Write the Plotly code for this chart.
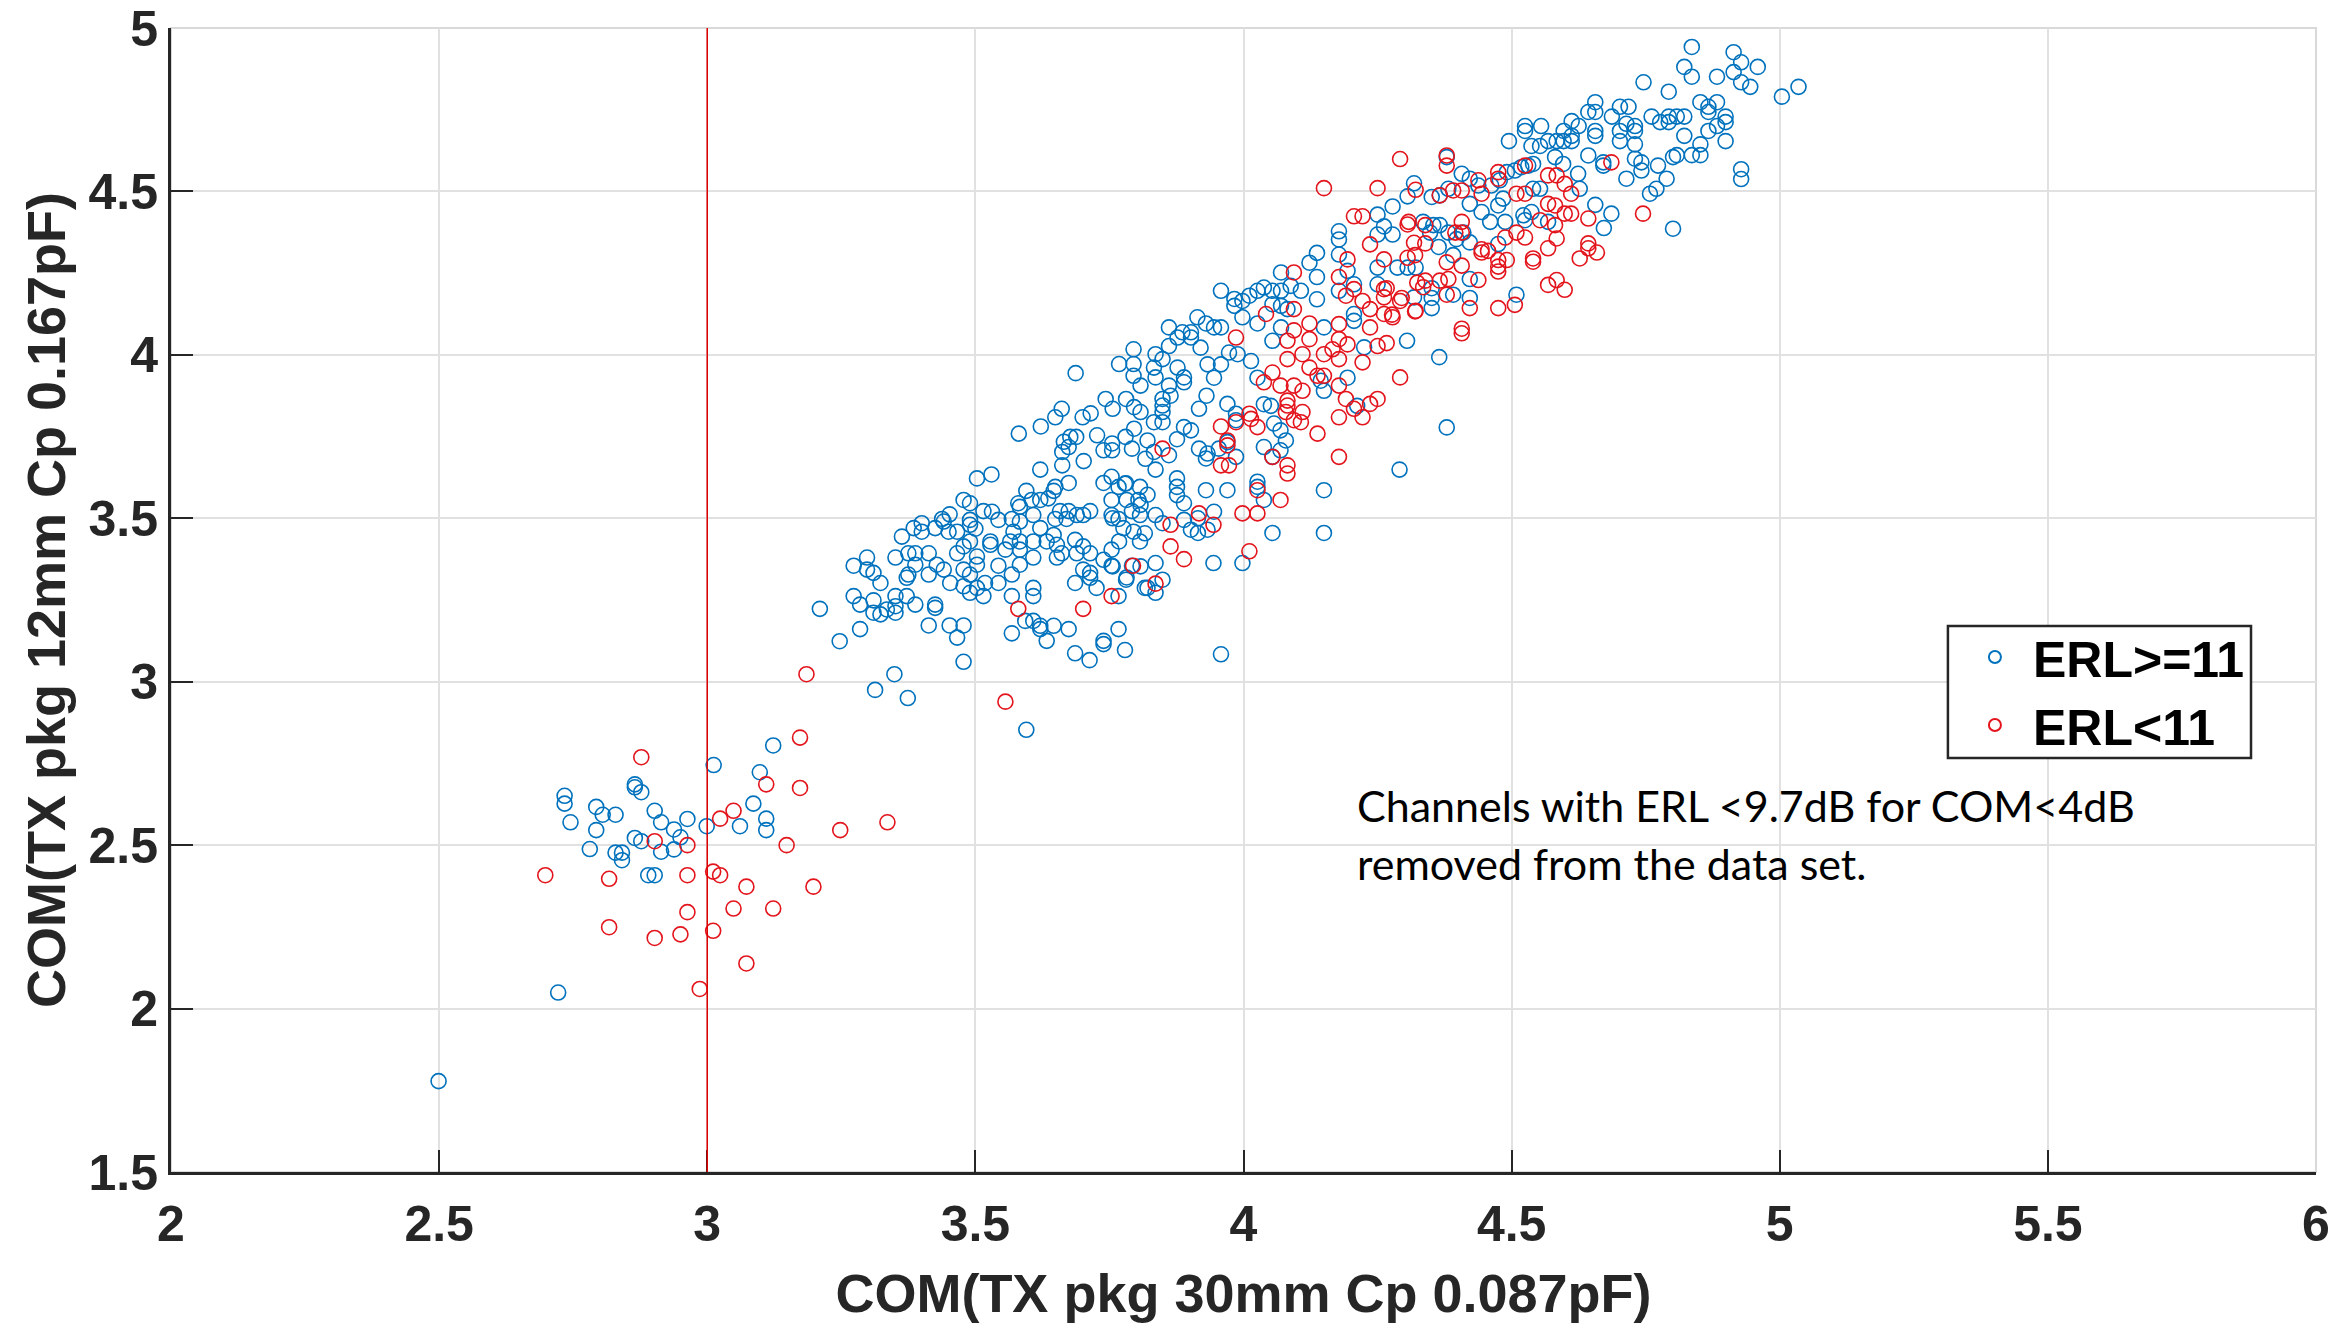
import plotly.graph_objects as go

# ---------------- data ----------------
erl_hi_points = [
    # low cluster
    (3.349,3.023),(3.313,2.975),(3.123,2.805),(3.012,2.745),(3.098,2.723),(3.086,2.627),(3.110,2.581),
    (3.110,2.546),(3.061,2.558),(2.999,2.558),(2.963,2.580),(2.938,2.548),(2.950,2.524),(2.938,2.487),
    (2.914,2.480),(2.914,2.570),(2.902,2.605),(2.877,2.662),(2.865,2.686),(2.865,2.677),(2.877,2.512),
    (2.865,2.522),(2.841,2.477),(2.829,2.477),(2.841,2.454),(2.781,2.488),(2.793,2.546),(2.829,2.593),
    (2.805,2.593),(2.793,2.617),(2.745,2.570),(2.734,2.651),(2.734,2.627),(2.890,2.408),(2.902,2.408),
    (2.722,2.049),(2.499,1.778),
    # x 3.15-3.83, y 2.75-3.76
    (3.665,3.734),(3.677,3.749),(3.688,3.749),(3.727,3.754),(3.755,3.729),(3.780,3.749),(3.792,3.713),
    (3.739,3.708),(3.755,3.708),(3.817,3.682),(3.662,3.703),(3.674,3.718),(3.662,3.662),(3.702,3.675),
    (3.621,3.649),(3.581,3.759),
    (3.503,3.622),(3.530,3.634),(3.595,3.584),(3.649,3.596),(3.674,3.608),(3.739,3.608),(3.754,3.627),
    (3.779,3.606),(3.807,3.596),(3.767,3.596),(3.478,3.556),(3.490,3.546),(3.580,3.546),(3.583,3.535),
    (3.605,3.556),(3.621,3.556),(3.636,3.561),(3.646,3.584),(3.754,3.556),(3.782,3.556),(3.804,3.556),
    (3.515,3.522),(3.531,3.520),(3.543,3.495),(3.568,3.498),(3.583,3.490),(3.608,3.510),(3.658,3.522),
    (3.674,3.522),(3.689,3.510),(3.714,3.522),(3.701,3.510),(3.754,3.510),(3.767,3.498),(3.792,3.522),
    (3.807,3.510),(3.649,3.498),(3.670,3.498),
    (3.452,3.512),(3.438,3.498),(3.490,3.495),(3.490,3.480),(3.500,3.468),(3.400,3.485),(3.385,3.470),
    (3.400,3.459),(3.425,3.470),(3.450,3.459),(3.466,3.459),(3.441,3.490),
    (3.363,3.444),(3.571,3.459),(3.621,3.470),(3.646,3.449),(3.686,3.434),(3.776,3.470),(3.795,3.459),
    (3.816,3.454),
    (3.490,3.429),(3.528,3.429),(3.528,3.419),(3.565,3.429),(3.583,3.429),(3.608,3.429),(3.633,3.429),
    (3.652,3.419),(3.478,3.414),(3.466,3.393),(3.503,3.383),(3.556,3.404),(3.583,3.404),(3.701,3.414),
    (3.714,3.393),(3.689,3.393),(3.661,3.393),(3.652,3.380),(3.754,3.404),(3.739,3.373),(3.807,3.429),
    (3.298,3.380),(3.273,3.355),(3.298,3.343),(3.310,3.333),(3.323,3.302),(3.351,3.380),(3.375,3.393),
    (3.388,3.393),(3.413,3.393),(3.388,3.358),(3.375,3.328),(3.372,3.318),(3.413,3.328),(3.428,3.358),
    (3.441,3.343),(3.453,3.302),(3.478,3.343),(3.490,3.328),(3.503,3.358),(3.478,3.292),(3.503,3.287),
    (3.518,3.302),(3.543,3.355),(3.543,3.302),(3.568,3.328),(3.583,3.358),(3.608,3.380),
    (3.701,3.343),(3.714,3.333),(3.714,3.318),(3.686,3.302),(3.726,3.287),(3.754,3.355),(3.782,3.319),
    (3.792,3.355),(3.816,3.287),
    (3.273,3.262),(3.285,3.236),(3.310,3.249),(3.310,3.211),(3.323,3.206),(3.335,3.221),(3.351,3.262),
    (3.351,3.231),(3.351,3.211),(3.372,3.262),(3.388,3.236),(3.425,3.236),(3.425,3.226),(3.490,3.272),
    (3.515,3.262),(3.568,3.262),(3.608,3.287),(3.608,3.262),(3.767,3.262),(3.210,3.223),
    (3.593,3.186),(3.608,3.186),(3.621,3.171),(3.621,3.161),(3.646,3.171),(3.674,3.161),(3.568,3.148),
    (3.633,3.125),(3.739,3.125),(3.739,3.115),(3.767,3.161),(3.779,3.097),(3.686,3.087),(3.713,3.066),
    (3.285,3.161),(3.247,3.124),(3.413,3.172),(3.452,3.172),(3.478,3.172),(3.466,3.135),(3.478,3.061),
    (3.374,2.950),(3.595,2.853),
    (3.821,3.572),(3.808,3.541),(3.756,3.500),(3.768,3.429),(3.756,3.353),(3.808,3.353),(3.781,3.312),
    (3.821,3.287),(3.821,3.738),(3.796,3.774),(3.781,3.607),
    # x 3.6-3.72, y 3.78-3.95
    (3.687,3.944),(3.661,3.835),(3.649,3.809),(3.700,3.809),(3.715,3.821),(3.622,3.781),
    # x 3.73-4.33, y 3.06-4.06
    (3.795,4.017),(3.768,3.972),(3.795,3.972),(3.795,3.936),(3.808,3.906),(3.836,4.002),(3.849,3.987),
    (3.861,4.027),(3.833,3.961),(3.836,3.931),(3.877,3.961),(3.889,3.931),(3.889,3.916),(3.861,3.906),
    (3.864,3.875),(3.849,3.865),(3.849,3.845),(3.849,3.825),(3.833,3.794),(3.849,3.794),(3.808,3.825),
    (3.796,3.840),(3.781,3.865),(3.756,3.835),(3.743,3.865),(3.889,3.779),(3.902,3.769),(3.917,3.835),
    (3.931,3.875),(3.945,3.930),(3.933,3.971),(3.958,3.971),(3.973,4.007),(3.989,4.002),(4.014,3.981),
    (3.970,3.850),(3.986,3.820),(3.986,3.800),(4.026,3.930),(4.038,3.849),(4.051,3.844),(4.057,3.790),
    (4.069,3.769),(4.054,4.043),(4.144,3.921),(4.150,3.890),(4.194,3.930),(4.212,3.844),(4.225,4.023),
    (4.305,4.043),(3.920,4.022),(3.902,4.053),(3.877,4.053),
    (3.876,3.742),(3.917,3.713),(3.930,3.683),(3.933,3.698),(3.861,3.693),(3.833,3.703),(3.836,3.649),
    (3.954,3.713),(3.970,3.733),(3.986,3.688),(4.038,3.718),(4.054,3.688),(4.069,3.708),(4.079,3.738),
    (3.876,3.622),(3.876,3.596),(3.876,3.571),(3.889,3.546),(3.930,3.586),(3.970,3.586),(4.026,3.612),
    (4.026,3.596),(4.038,3.556),(4.150,3.586),(4.291,3.649),(3.836,3.510),(3.849,3.485),(3.889,3.495),
    (3.902,3.465),(3.915,3.455),(3.933,3.465),(3.945,3.520),(3.915,3.500),(4.054,3.455),(4.150,3.455),
    (3.944,3.363),(3.998,3.363),(3.836,3.363),(3.849,3.312),(3.836,3.272),(3.958,3.084),
    # x 3.85-4.33, y 4.06-4.7
    (4.318,4.525),(4.306,4.485),(4.278,4.454),(4.250,4.429),(4.262,4.393),(4.250,4.368),(4.278,4.368),
    (4.178,4.378),(4.178,4.353),(4.178,4.307),(4.137,4.312),(4.123,4.282),(4.137,4.238),(4.137,4.170),
    (4.194,4.257),(4.070,4.252),(4.088,4.211),(4.107,4.196),(4.070,4.196),(4.054,4.196),(4.038,4.206),
    (4.026,4.196),(4.011,4.181),(3.998,4.165),(3.983,4.171),(3.958,4.196),(3.998,4.115),(4.026,4.096),
    (4.054,4.155),(4.070,4.150),(4.082,4.140),(3.983,4.150),(4.178,4.196),(4.206,4.216),(4.206,4.125),
    (4.250,4.267),(4.250,4.216),(4.287,4.267),(4.306,4.267),(4.321,4.267),(4.318,4.176),(3.914,4.115),
    (3.861,4.084),(3.886,4.069),(3.902,4.069),(3.930,4.096),(3.945,4.084),(3.958,4.084),(4.070,4.084),
    (4.150,4.084),(4.206,4.104),
    # x 4.33-4.81, y 3.6-4.61
    (4.379,4.605),(4.407,4.554),(4.422,4.539),(4.438,4.518),(4.462,4.518),(4.478,4.534),(4.491,4.559),
    (4.506,4.564),(4.518,4.574),(4.531,4.579),(4.540,4.584),(4.581,4.605),(4.596,4.584),(4.624,4.554),
    (4.627,4.508),(4.553,4.508),(4.540,4.508),(4.643,4.610),(4.671,4.589),(4.671,4.579),(4.714,4.539),
    (4.730,4.600),(4.742,4.589),(4.742,4.564),(4.773,4.579),(4.789,4.539),(4.758,4.493),(4.770,4.508),
    (4.801,4.605),(4.801,4.386),(4.686,4.432),(4.672,4.388),(4.656,4.459),(4.351,4.483),(4.366,4.488),
    (4.382,4.508),(4.422,4.462),(4.444,4.437),(4.460,4.407),(4.488,4.407),(4.475,4.457),(4.484,4.478),
    (4.522,4.427),(4.525,4.412),(4.537,4.437),(4.568,4.407),(4.354,4.397),(4.366,4.397),(4.382,4.374),
    (4.410,4.374),(4.397,4.354),(4.422,4.344),(4.364,4.330),(4.391,4.305),(4.475,4.339),(4.351,4.204),
    (4.351,4.174),(4.351,4.143),(4.391,4.184),(4.422,4.174),(4.422,4.232),(4.509,4.184),(4.365,3.993),
    (4.379,3.778),(4.335,4.407),(4.348,4.374),
    # top right, y > 4.6
    (4.836,4.942),(4.914,4.926),(4.928,4.895),(4.959,4.881),(4.822,4.881),(4.836,4.851),(4.883,4.851),
    (4.914,4.865),(4.928,4.834),(4.945,4.820),(4.746,4.834),(4.793,4.805),(5.004,4.790),(5.035,4.820),
    (4.852,4.773),(4.867,4.759),(4.883,4.773),(4.867,4.743),(4.899,4.729),(4.899,4.712),(4.883,4.700),
    (4.867,4.685),(4.899,4.654),(4.852,4.644),(4.822,4.670),(4.822,4.729),(4.808,4.729),(4.793,4.729),
    (4.777,4.712),(4.761,4.729),(4.793,4.712),(4.656,4.773),(4.656,4.743),(4.643,4.743),(4.687,4.729),
    (4.702,4.759),(4.718,4.759),(4.714,4.707),(4.730,4.700),(4.730,4.685),(4.702,4.685),(4.702,4.654),
    (4.730,4.644),(4.656,4.685),(4.656,4.670),(4.612,4.715),(4.625,4.700),(4.612,4.670),(4.597,4.685),
    (4.525,4.700),(4.525,4.685),(4.555,4.700),(4.495,4.654),(4.537,4.639),(4.553,4.639),(4.568,4.654),
    (4.584,4.654),(4.597,4.654),(4.612,4.654),(4.928,4.568),(4.928,4.538),(4.808,4.611),(4.836,4.611),
    (4.852,4.611),
]

erl_lo_points = [
    # low cluster
    (3.185,3.023),(3.173,2.829),(2.877,2.769),(3.110,2.686),(3.173,2.675),(3.049,2.605),(3.024,2.581),
    (3.248,2.546),(3.336,2.570),(3.148,2.500),(2.902,2.512),(2.963,2.500),(2.698,2.408),(2.817,2.397),
    (2.963,2.408),(3.011,2.419),(3.024,2.408),(3.073,2.373),(3.198,2.373),(2.963,2.295),(3.049,2.306),
    (3.123,2.306),(2.817,2.249),(2.902,2.216),(2.950,2.227),(3.011,2.238),(3.073,2.138),(2.986,2.060),
    # middle
    (3.580,3.223),(3.701,3.223),(3.754,3.262),(3.794,3.355),(3.556,2.939),
    (3.986,4.053),(4.082,4.043),(4.110,4.002),(4.123,4.048),(4.082,3.987),(4.054,3.946),(4.038,3.916),
    (4.069,3.906),(4.094,3.906),(4.110,3.890),(4.123,3.961),(4.138,3.936),(4.150,3.936),(4.150,4.002),
    (4.166,4.017),(4.178,4.048),(4.178,3.987),(4.194,4.032),(4.222,3.977),(4.250,4.027),(4.292,3.931),
    (4.178,3.906),(4.191,3.865),(4.206,3.835),(4.222,3.809),(4.236,3.850),(4.250,3.865),(4.178,3.809),
    (4.082,3.860),(4.082,3.845),(4.079,3.825),(4.110,3.825),(4.094,3.800),(4.107,3.794),(4.138,3.759),
    (4.026,3.779),(4.011,3.820),(4.014,3.804),(3.958,3.781),(3.986,3.794),
    (3.849,3.713),(3.970,3.738),(3.970,3.723),(3.958,3.662),(3.973,3.662),(4.054,3.688),(4.082,3.662),
    (4.082,3.637),(4.178,3.688),(4.026,3.586),(4.069,3.556),(3.998,3.515),(4.026,3.515),(3.917,3.515),
    (3.944,3.480),(3.864,3.480),(3.864,3.414),(3.889,3.375),(4.011,3.399),(3.836,3.300),
    # x 4.0-4.33, y 4.06-4.6
    (4.292,4.599),(4.150,4.510),(4.250,4.510),(4.206,4.424),(4.222,4.424),(4.306,4.399),(4.236,4.338),
    (4.194,4.292),(4.262,4.292),(4.094,4.252),(4.178,4.238),(4.191,4.181),(4.206,4.201),(4.222,4.165),
    (4.236,4.140),(4.262,4.201),(4.262,4.176),(4.292,4.165),(4.278,4.115),(4.262,4.125),(4.094,4.140),
    (4.042,4.125),(4.123,4.096),(4.094,4.075),(4.178,4.094),(4.236,4.084),(4.321,4.135),(4.306,4.297),
    (4.318,4.343),(4.324,4.221),(4.321,4.505),
    (4.320,4.305),(4.267,4.204),(4.295,4.174),(4.277,4.123),(4.320,4.133),(4.267,4.036),(4.308,4.407),
    # x 4.33-4.75
    (4.379,4.579),(4.379,4.610),(4.438,4.534),(4.475,4.559),(4.475,4.539),(4.525,4.579),(4.568,4.549),
    (4.584,4.549),(4.599,4.523),(4.611,4.493),(4.686,4.589),(4.745,4.432),(4.366,4.488),(4.391,4.503),
    (4.407,4.503),(4.444,4.493),(4.509,4.493),(4.525,4.493),(4.568,4.462),(4.581,4.457),(4.553,4.412),
    (4.581,4.397),(4.599,4.432),(4.611,4.432),(4.643,4.417),(4.584,4.356),(4.568,4.326),(4.509,4.374),
    (4.525,4.359),(4.488,4.359),(4.444,4.323),(4.456,4.318),(4.444,4.313),(4.475,4.290),(4.491,4.290),
    (4.475,4.270),(4.475,4.255),(4.540,4.295),(4.540,4.285),(4.627,4.295),(4.643,4.341),(4.643,4.326),
    (4.659,4.313),(4.568,4.214),(4.584,4.229),(4.599,4.199),(4.438,4.229),(4.407,4.407),(4.407,4.374),
    (4.395,4.374),(4.379,4.283),(4.407,4.273),(4.382,4.232),(4.366,4.227),(4.379,4.184),(4.422,4.143),
    (4.475,4.143),(4.506,4.153),(4.407,4.080),(4.407,4.066),(4.339,4.397),(4.339,4.341),(4.339,4.227),
    (4.335,4.207),
]

series_names = ["ERL>=11", "ERL<11"]
threshold_x = 3.0
x_title = "COM(TX pkg 30mm Cp 0.087pF)"
y_title = "COM(TX pkg 12mm Cp 0.167pF)"
note_lines = ["Channels with ERL <9.7dB for COM<4dB", "removed from the data set."]
x_ticks = [2, 2.5, 3, 3.5, 4, 4.5, 5, 5.5, 6]
x_tick_labels = ["2", "2.5", "3", "3.5", "4", "4.5", "5", "5.5", "6"]
y_ticks = [1.5, 2, 2.5, 3, 3.5, 4, 4.5, 5]
y_tick_labels = ["1.5", "2", "2.5", "3", "3.5", "4", "4.5", "5"]
x_range = [2, 6]
y_range = [1.5, 5]

# ---------------- figure ----------------
BLUE = "#0072BD"
RED = "#E3141C"
AX = "#262626"

TOP, BOTTOM_PX, H = 28, 1172, 1333
PLOT_H = BOTTOM_PX - TOP


def py(px):
    """pixel row in the page -> paper fraction of the plot area (for decorations only)"""
    return (BOTTOM_PX - px) / PLOT_H


hi_x = [p[0] for p in erl_hi_points]
hi_y = [p[1] for p in erl_hi_points]
lo_x = [p[0] for p in erl_lo_points]
lo_y = [p[1] for p in erl_lo_points]

fig = go.Figure()
fig.add_trace(go.Scatter(x=hi_x, y=hi_y, mode="markers", name=series_names[0],
                         marker=dict(symbol="circle-open", size=15, color=BLUE,
                                     line=dict(width=1.6, color=BLUE))))
fig.add_trace(go.Scatter(x=lo_x, y=lo_y, mode="markers", name=series_names[1],
                         marker=dict(symbol="circle-open", size=15, color=RED,
                                     line=dict(width=1.6, color=RED))))

fig.add_shape(type="line", xref="x", yref="y", x0=threshold_x, x1=threshold_x,
              y0=y_range[0], y1=y_range[1], line=dict(color="#E00000", width=1.5))
fig.add_shape(type="rect", xref="paper", yref="paper", x0=0, x1=1, y0=0, y1=1,
              line=dict(color="#d9d9d9", width=2), layer="below")
# legend frame
fig.add_shape(type="rect", xref="paper", yref="paper", x0=0.8284, x1=0.9697, y0=py(758), y1=py(626),
              line=dict(color=AX, width=2.5), fillcolor="white", layer="above")

tickfont = dict(family="Liberation Sans, Arial", size=50, color=AX, weight="bold")
titlefont = dict(family="Liberation Sans, Arial", size=54, color=AX, weight="bold")

fig.update_layout(
    width=2330, height=H,
    margin=dict(l=171, r=14, t=TOP, b=H - BOTTOM_PX, autoexpand=False),
    paper_bgcolor="white", plot_bgcolor="white",
    showlegend=True,
    legend=dict(x=0.8326, y=py(618), xanchor="left", yanchor="top",
                bgcolor="rgba(0,0,0,0)", borderwidth=0,
                font=dict(family="Liberation Sans, Arial", size=50, color="black", weight="bold"),
                itemsizing="constant", itemwidth=66, tracegroupgap=0),
    xaxis=dict(range=x_range, tickvals=x_ticks, ticktext=x_tick_labels, automargin=False,
               showgrid=True, gridcolor="#e1e1e1", gridwidth=2,
               zeroline=False, showline=True, linecolor=AX, linewidth=3,
               ticks="inside", ticklen=22, tickwidth=2, tickcolor=AX, ticklabelstandoff=6,
               ticklabeloverflow="allow",
               tickfont=tickfont, title=dict(text=x_title, font=titlefont, standoff=24)),
    yaxis=dict(range=y_range, tickvals=y_ticks, ticktext=y_tick_labels, automargin=False,
               showgrid=True, gridcolor="#e1e1e1", gridwidth=2,
               zeroline=False, showline=True, linecolor=AX, linewidth=3,
               ticks="inside", ticklen=22, tickwidth=2, tickcolor=AX,
               ticklabeloverflow="allow",
               tickfont=tickfont, title=dict(text=y_title, font=titlefont, standoff=6)),
)

fig.add_annotation(xref="paper", yref="paper", x=0.552, y=py(805),
                   xanchor="left", yanchor="middle", showarrow=False, align="left",
                   text=note_lines[0], font=dict(family="Lato", size=43, color="black"))
fig.add_annotation(xref="paper", yref="paper", x=0.552, y=py(863),
                   xanchor="left", yanchor="middle", showarrow=False, align="left",
                   text=note_lines[1], font=dict(family="Lato", size=43, color="black"))

fig.write_html("out.html")
